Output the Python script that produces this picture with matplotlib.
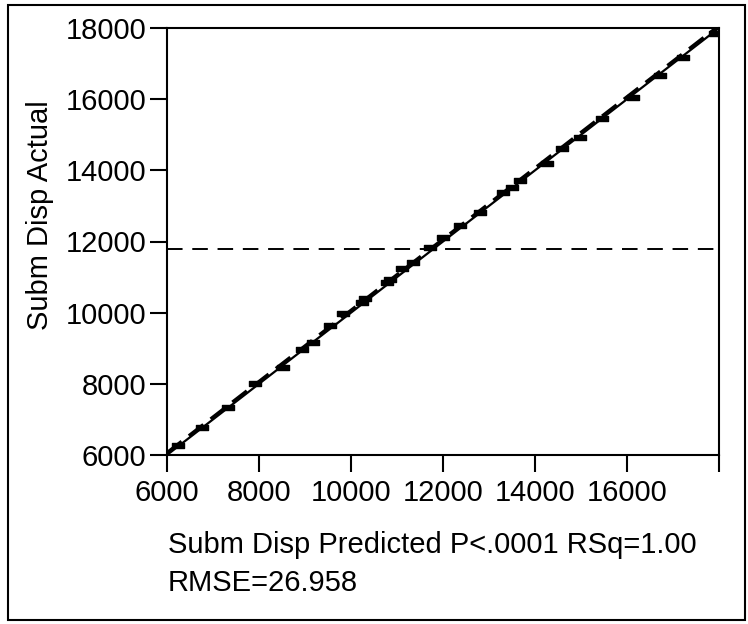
import matplotlib
matplotlib.use("Agg")
import matplotlib.pyplot as plt
from matplotlib.path import Path
from matplotlib.patches import Rectangle

plt.rcParams['font.family'] = ['Liberation Sans', 'DejaVu Sans']

predicted = [6239, 6761, 7326, 7913, 8522, 8935, 9174, 9543, 9826, 10239, 10300,
             10783, 10850, 11109, 11348, 11717, 12000, 12370, 12804, 13304, 13500,
             13674, 14261, 14587, 14978, 15457, 16130, 16717, 17217, 17913]
actual = [6281, 6787, 7348, 8022, 8472, 8978, 9174, 9652, 9989, 10298, 10420,
          10860, 10960, 11253, 11421, 11843, 12124, 12461, 12826, 13388, 13528,
          13725, 14202, 14624, 14933, 15466, 16056, 16674, 17180, 17854]
mean_actual = 11800
ticks = [6000, 8000, 10000, 12000, 14000, 16000, 18000]
xtick_labels = ['6000', '8000', '10000', '12000', '14000', '16000', '']
ytick_labels = ['6000', '8000', '10000', '12000', '14000', '16000', '18000']

FS = 21

fig = plt.figure(figsize=(7.48, 6.24), dpi=100)
fig.patches.append(Rectangle((8/748, 1-620/624), (745-8)/748, (620-5)/624,
                             transform=fig.transFigure, fill=False,
                             edgecolor='black', linewidth=1.5))
ax = fig.add_axes([167/748, 1-455/624, (719-167)/748, (455-28)/624])

lo, hi = 6000, 18000
ax.plot([lo, hi], [lo, hi], color='black', lw=1.6, zorder=3)
ax.plot([lo, hi], [lo + 70, hi + 70], color='black', lw=2.2,
        linestyle=(0, (6, 3)), zorder=3)
ax.axhline(mean_actual, color='black', lw=1.4, linestyle=(0, (8, 5)))

rect = Path([(-1, -0.45), (1, -0.45), (1, 0.45), (-1, 0.45), (-1, -0.45)],
            [Path.MOVETO, Path.LINETO, Path.LINETO, Path.LINETO, Path.CLOSEPOLY])
ax.plot(predicted, actual, linestyle='none', marker=rect, markersize=8,
        color='black', zorder=4)

ax.set_xlim(lo, hi)
ax.set_ylim(lo, hi)
ax.set_xticks(ticks)
ax.set_xticklabels(xtick_labels)
ax.set_yticks(ticks)
ax.set_yticklabels(ytick_labels)
ax.tick_params(direction='out', length=12, width=1.5, labelsize=FS, pad=3)
ax.tick_params(axis='x', pad=5)
for s in ax.spines.values():
    s.set_linewidth(1.5)

fig.text(40/748, 1-215/624, 'Subm Disp Actual', fontsize=FS, rotation=90,
         ha='center', va='center')
fig.text(168/748, 1-545/624, 'Subm Disp Predicted P<.0001 RSq=1.00',
         fontsize=FS, ha='left', va='center')
fig.text(168/748, 1-583/624, 'RMSE=26.958', fontsize=FS, ha='left', va='center')

fig.savefig('out.png', dpi=100)
